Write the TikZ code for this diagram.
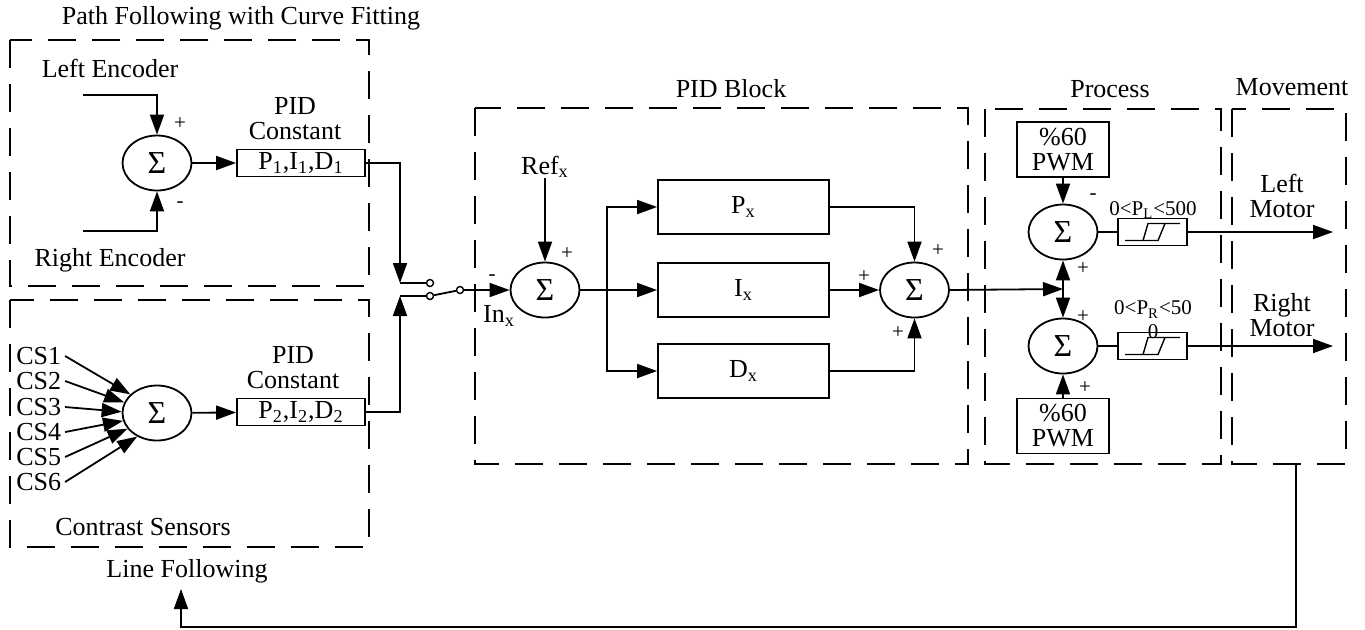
\documentclass[tikz,border=0pt]{standalone}
\usepackage{fontspec}
\setmainfont{Liberation Serif}
\usetikzlibrary{arrows.meta,calc,shapes.geometric}

\begin{document}
\begin{tikzpicture}[x=0.5pt,y=-0.5pt,line width=0.9pt,
  >={Triangle[length=10pt,width=7pt]},
  font=\fontsize{13}{12.5}\selectfont,
  sumnode/.style={ellipse,draw,minimum width=34.5pt,minimum height=27.5pt,
    inner sep=0pt,font=\fontsize{16}{16}\selectfont},
  blk/.style={rectangle,draw,inner sep=0pt,align=center},
  grp/.style={draw,dash pattern=on 14pt off 8pt},
  sgn/.style={inner sep=0pt,align=center,font=\fontsize{10.5}{12}\selectfont},
  lbl/.style={inner sep=0pt,align=center},
  contact/.style={circle,draw,fill=white,minimum size=3.5pt,inner sep=0pt,
    line width=0.7pt}]

  \useasboundingbox (0,0) rectangle (1365,629);

  % group frames
  \draw[grp] (10,40) rectangle (369,286);
  \draw[grp] (10,300) rectangle (369,547);
  \draw[grp] (475,108) rectangle (968,464);
  \draw[grp] (985,109) rectangle (1221,464);
  \draw[grp] (1232,109) rectangle (1346,464);

  \node[lbl] (tpath) at (241,18) {Path Following with Curve Fitting};
  \node[lbl] (tline) at (187,571) {Line Following};
  \node[lbl] (tpid) at (731,89) {PID Block};
  \node[lbl] (tproc) at (1110,89) {Process};
  \node[lbl] (tmove) at (1292,87) {Movement};

  % path following (encoders)
  \node[sumnode] (s1) at (157,163) {Σ};
  \coordinate (lenc) at (83,95);
  \coordinate (renc) at (83,231);
  \node[lbl] (tlenc) at (110,68) {Left Encoder};
  \node[lbl] (trenc) at (110,260) {Right Encoder};
  \draw[->] (lenc) -| (s1.north);
  \draw[->] (renc) -| (s1.south);
  \node[sgn] (s1p) at (180,124) {+};
  \node[sgn] (s1m) at (180,205) {-};
  \node[blk,minimum width=64pt,minimum height=13.5pt] (pid1) at (301,163)
    {P\textsubscript{1},I\textsubscript{1},D\textsubscript{1}};
  \node[lbl] (tpid1) at (295,119) {PID\\Constant};
  \draw[->] (s1) -- (pid1);

  % line following (contrast sensors)
  \node[sumnode] (s0) at (157,413) {Σ};
  \foreach \i/\y/\a in {1/356/145,2/381/162,3/407/178,4/432/193,5/457/208,6/482/230}{
    \node[lbl,inner xsep=1.5pt,anchor=west] (cs\i) at (12.5,\y) {CS\i};
    \draw[->] (cs\i.east) -- (s0.\a);
  }
  \node[blk,minimum width=64pt,minimum height=13.5pt] (pid2) at (301,412)
    {P\textsubscript{2},I\textsubscript{2},D\textsubscript{2}};
  \node[lbl] (tpid2) at (293,368) {PID\\Constant};
  \node[lbl] (tcs) at (143,527) {Contrast Sensors};
  \draw[->] (s0) -- (pid2);

  % switch
  \coordinate (sw1) at (400,283);
  \coordinate (sw2) at (400,296);
  \node[contact] (c1) at (430,283) {};
  \node[contact] (c2) at (430,296) {};
  \node[contact] (piv) at (460,290) {};
  \draw[->] (pid1.east) -| (sw1);
  \draw (sw1) -- (c1);
  \draw[->] (pid2.east) -| (sw2);
  \draw (sw2) -- (c2);
  \draw (c2) -- (piv);

  % PID block
  \node[sumnode] (s2) at (545,290) {Σ};
  \node[lbl] (tref) at (545,167) {Ref\textsubscript{x}};
  \coordinate (ref) at (545,178);
  \draw[->] (ref) -- (s2.north);
  \draw[->] (piv) -- (s2.west);
  \node[sgn] (s2p) at (567,254) {+};
  \node[sgn] (s2m) at (492,278) {-};
  \node[lbl] (tin) at (499,316) {In\textsubscript{x}};
  \coordinate (br) at (607,290);
  \node[blk,minimum width=85.5pt,minimum height=27pt] (pb) at (743.5,207) {P\textsubscript{x}};
  \node[blk,minimum width=85.5pt,minimum height=27pt] (ib) at (743.5,290) {I\textsubscript{x}};
  \node[blk,minimum width=85.5pt,minimum height=27pt] (db) at (743.5,371) {D\textsubscript{x}};
  \draw (s2.east) -- (br);
  \draw[->] (br) |- (pb.west);
  \draw[->] (br) -- (ib.west);
  \draw[->] (br) |- (db.west);
  \node[sumnode] (s3) at (914.5,290) {Σ};
  \draw[->] (pb.east) -| (s3.north);
  \draw[->] (ib) -- (s3);
  \draw[->] (db.east) -| (s3.south);
  \node[sgn] (s3a) at (938,251) {+};
  \node[sgn] (s3b) at (864,277) {+};
  \node[sgn] (s3c) at (898,333) {+};

  % process
  \node[blk,minimum width=46pt,minimum height=27.5pt] (pwm1) at (1063,149.5) {\%60\\PWM};
  \node[sumnode] (s4) at (1063,232) {Σ};
  \node[sumnode] (s5) at (1063,346) {Σ};
  \node[blk,minimum width=46pt,minimum height=27.5pt] (pwm2) at (1063,426) {\%60\\PWM};
  \coordinate (jn) at (1063,289);
  \draw[->] (s3.east) -- (jn);
  \draw[->] (jn) -- (s4.south);
  \draw[->] (jn) -- (s5.north);
  \draw[->] (pwm1) -- (s4);
  \draw[->] (pwm2) -- (s5);
  \node[sgn] (s4m) at (1093,197) {-};
  \node[sgn] (s4p) at (1083,269) {+};
  \node[sgn] (s5p) at (1083,317) {+};
  \node[sgn] (s5q) at (1085,388) {+};
  \node[blk,minimum width=34.5pt,minimum height=13.5pt] (sat1) at (1152.5,232) {};
  \node[blk,minimum width=34.5pt,minimum height=13.5pt] (sat2) at (1152.5,346) {};
  \foreach \s in {sat1,sat2}{
    \draw[line width=0.7pt] ($(\s)+(-27.5,8.5)$) -- ($(\s)+(5.5,8.5)$) -- ($(\s)+(12.5,-8.5)$);
    \draw[line width=0.7pt] ($(\s)+(-9.5,8.5)$) -- ($(\s)+(-4.5,-8.5)$) -- ($(\s)+(27.5,-8.5)$);
  }
  \node[sgn] (tlim1) at (1153,210) {0<P\textsubscript{L}<500};
  \node[sgn] (tlim2) at (1153,320) {0<P\textsubscript{R}<50\\0};
  \coordinate (lmot) at (1333,232);
  \coordinate (rmot) at (1333,346);
  \draw (s4) -- (sat1);
  \draw[->] (sat1) -- (lmot);
  \draw (s5) -- (sat2);
  \draw[->] (sat2) -- (rmot);

  % movement
  \node[lbl] (tlm) at (1282,196) {Left\\Motor};
  \node[lbl] (trm) at (1282,315) {Right\\Motor};

  % feedback
  \coordinate (fb) at (1296,464);
  \coordinate (fbc) at (1296,627);
  \coordinate (fbt) at (181,589);
  \draw[->] (fb) -- (fbc) -| (fbt);
\end{tikzpicture}
\end{document}
